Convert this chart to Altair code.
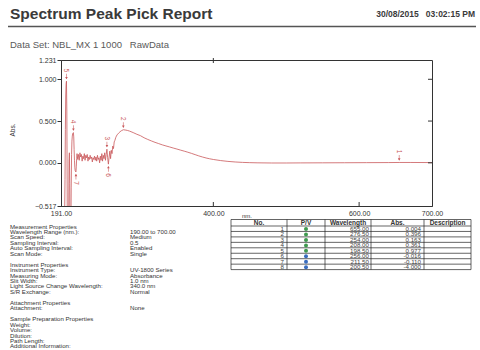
import altair as alt
import pandas as pd

# ---------------- spectrum (wavelength nm, absorbance) ----------------
wavelength = [
    190.0, 190.5, 191.0, 191.5, 192.0, 192.5, 193.0, 193.5, 194.0, 194.5,
    195.0, 195.5, 196.0, 196.5, 197.0, 197.5, 198.0, 198.5, 199.0, 199.5,
    200.0, 200.5, 201.0, 201.5, 202.0, 202.5, 203.0, 203.5, 204.0, 204.5,
    205.0, 205.5, 206.0, 206.5, 207.0, 207.5, 208.0, 208.5, 209.0, 209.5,
    210.0, 210.5, 211.0, 211.5, 212.0, 212.5, 213.0,
    214, 215, 216, 217, 218, 219, 220, 221, 222, 223, 224, 225, 226, 227,
    228, 229, 230, 231, 232, 233, 234, 235, 236, 237, 238, 239, 240, 241,
    242, 243, 244, 245, 246, 247, 248, 249, 250, 251, 252, 253, 254, 255,
    256, 257, 258, 259, 260, 261, 262, 263, 264, 265, 266, 267, 268, 270,
    272, 274, 276.5, 279, 282, 285, 290, 295, 300, 305, 310, 315, 320, 325,
    330, 335, 340, 345, 350, 355, 360, 365, 370, 375, 380, 385, 390, 395,
    400, 410, 420, 430, 440, 450, 460, 480, 500, 520, 550, 580, 610, 640,
    655, 670, 700,
]
absorbance = [
    -1.30, -1.10, -0.95, -1.40, -1.05, -0.90, -1.60, -1.20, -0.85, -1.10,
    -0.75, -0.95, -0.60, -0.20, 0.40, 0.80, 0.94, 0.977, 0.62, -0.35,
    -2.20, -4.000, -2.40, -0.70, 0.02, 0.12, -0.25, -1.10, -1.60, -0.90,
    -0.30, 0.10, 0.26, 0.32, 0.35, 0.358, 0.361, 0.31, 0.16, 0.03,
    -0.06, -0.095, -0.105, -0.110, -0.04, 0.05, 0.11,
    0.04, 0.10, 0.03, 0.12, 0.07, 0.10, 0.02, 0.08, 0.05, 0.11, 0.03, 0.09, 0.06, 0.10,
    0.02, 0.07, 0.04, 0.09, 0.05, 0.07, 0.01, 0.06, 0.04, 0.08, 0.03, 0.07, 0.02, 0.09,
    0.04, 0.06, 0.00, 0.08, 0.03, 0.11, 0.02, 0.09, 0.05, 0.12, 0.03, 0.10, 0.163, 0.06,
    -0.016, 0.07, 0.14, 0.05, 0.15, 0.11, 0.20, 0.17, 0.25, 0.27, 0.30, 0.32, 0.335, 0.355,
    0.372, 0.385, 0.396, 0.393, 0.388, 0.38, 0.362, 0.342, 0.325, 0.30, 0.28, 0.262, 0.245, 0.23,
    0.215, 0.202, 0.19, 0.177, 0.165, 0.152, 0.14, 0.127, 0.113, 0.098, 0.083, 0.07, 0.058, 0.048,
    0.04, 0.027, 0.017, 0.01, 0.005, 0.002, 0.0, -0.002, -0.002, -0.001, 0.0, 0.001, 0.002, 0.003,
    0.004, 0.004, 0.003,
]

# ---------------- picked peaks / valleys ----------------
pick_no = [1, 2, 3, 4, 5, 6, 7, 8]
pick_type = ["P", "P", "P", "P", "P", "V", "V", "V"]
pick_wl = [655.00, 276.50, 254.00, 208.00, 198.50, 256.00, 211.50, 200.50]
pick_abs = [0.004, 0.396, 0.163, 0.361, 0.977, -0.016, -0.110, -4.000]

# ---------------- axes ----------------
x_domain = [191.0, 700.0]
y_domain = [-0.517, 1.231]
x_labels = [191.0, 400.0, 600.0, 700.0]
x_inner_ticks = [400.0, 600.0]
y_labels = [-0.517, 0.0, 0.5, 1.0, 1.231]
y_inner_ticks = [0.0, 0.5, 1.0]

# ---------------- report text ----------------
NBSP3 = "\u00a0\u00a0\u00a0"
report_title = "Spectrum Peak Pick Report"
report_stamp = "30/08/2015" + NBSP3 + "03:02:15 PM"
data_set_line = "Data Set: NBL_MX 1 1000" + NBSP3 + "RawData"
table_headers = ["No.", "P/V", "Wavelength", "Abs.", "Description"]
prop_labels = [
    "Measurement Properties", "Wavelength Range (nm.):", "Scan Speed:",
    "Sampling Interval:", "Auto Sampling Interval:", "Scan Mode:", "",
    "Instrument Properties", "Instrument Type:", "Measuring Mode:",
    "Slit Width:", "Light Source Change Wavelength:", "S/R Exchange:", "",
    "Attachment Properties", "Attachment:", "",
    "Sample Preparation Properties", "Weight:", "Volume:", "Dilution:",
    "Path Length:", "Additional Information:",
]
prop_values = [
    "", "190.00 to 700.00", "Medium", "0.5", "Enabled", "Single", "",
    "", "UV-1800 Series", "Absorbance", "1.0 nm", "340.0 nm", "Normal", "",
    "", "None", "",
    "", "", "", "", "", "",
]

# ---------------- page geometry (px) ----------------
OX, OY = 61, 60          # plot origin on the page
W, H = 371, 146          # plot area
RED = "#c9585a"
INK = "#333333"
FONT = "Liberation Sans"


def px(v):
    return v - OX


def py(v):
    return v - OY


spec = pd.DataFrame({"wl": wavelength, "abs": absorbance})
picks = pd.DataFrame({"no": pick_no, "type": pick_type, "wl": pick_wl, "abs": pick_abs})

xs = alt.Scale(domain=x_domain, nice=False, zero=False)
ys = alt.Scale(domain=y_domain, nice=False, zero=False)
xa = alt.Axis(
    values=x_labels, format=".2f", title=None, ticks=False, grid=False,
    labelFontSize=7, labelFont=FONT, labelColor=INK, labelPadding=3,
    labelFlush=False, labelOverlap=False, domainColor=INK)
ya = alt.Axis(
    values=y_labels, format=".3f", title=None, tickSize=4, grid=False,
    labelFontSize=7, labelFont=FONT, labelColor=INK, labelPadding=1,
    labelFlush=False, labelOverlap=False, domainColor=INK, tickColor=INK)

line = alt.Chart(spec).mark_line(color=RED, strokeWidth=0.8, clip=True).encode(
    x=alt.X("wl:Q", scale=xs, axis=xa),
    y=alt.Y("abs:Q", scale=ys, axis=ya),
)

# inward ticks on bottom, top and right frame edges
bottom_ticks = alt.Chart(pd.DataFrame({"t": x_inner_ticks})).mark_rule(color=INK).encode(
    x=alt.X("t:Q", scale=xs, axis=xa), y=alt.value(H - 4), y2=alt.value(H))
top_ticks = alt.Chart(pd.DataFrame({"t": x_inner_ticks[:1]})).mark_rule(color=INK).encode(
    x=alt.X("t:Q", scale=xs, axis=xa), y=alt.value(-2), y2=alt.value(3))
right_ticks = alt.Chart(pd.DataFrame({"t": y_inner_ticks})).mark_rule(color=INK).encode(
    y=alt.Y("t:Q", scale=ys, axis=ya), x=alt.value(W - 4), x2=alt.value(W))

# peak / valley markers
visible = picks[picks["abs"] > y_domain[0]]
pk = visible[visible["type"] == "P"]
vl = visible[visible["type"] == "V"]


def markers(df, sign, shape):
    base = alt.Chart(df).encode(x=alt.X("wl:Q", scale=xs, axis=xa), y=alt.Y("abs:Q", scale=ys, axis=ya))
    stem = base.mark_tick(orient="vertical", size=5, thickness=0.8, color=RED, yOffset=sign * 5)
    head = base.mark_point(shape=shape, filled=True, size=7, color=RED, opacity=1, yOffset=sign * 3)
    label = base.mark_text(angle=90, fontSize=6.5, font=FONT, color=RED, yOffset=sign * 11).encode(
        text="no:N")
    return stem + head + label


pk_layer = markers(pk, -1, "triangle-down")
vl_layer = markers(vl, 1, "triangle-up")


def pix_text(df, font=FONT, **kw):
    return alt.Chart(df).mark_text(font=font, **kw).encode(
        x=alt.X("x:Q", scale=None, axis=None),
        y=alt.Y("y:Q", scale=None, axis=None),
        text="t:N",
    )


# header
title = pix_text(pd.DataFrame({"t": [report_title], "x": [px(10)], "y": [py(19)]}),
                 fontSize=15.5, fontWeight="bold", color="#3a3a3a", align="left", baseline="alphabetic")
stamp = pix_text(pd.DataFrame({"t": [report_stamp], "x": [px(475)], "y": [py(17)]}),
                 fontSize=8.5, fontWeight="bold", color="#3a3a3a", align="right", baseline="alphabetic")
header_rule = alt.Chart(pd.DataFrame({"k": [0]})).mark_rule(color="#555", strokeWidth=1.3).encode(
    x=alt.value(px(8)), x2=alt.value(px(476)), y=alt.value(py(26.5)))
dataset = pix_text(pd.DataFrame({"t": [data_set_line], "x": [px(10)], "y": [py(48)]}),
                   fontSize=9.5, color="#5a5a5a", align="left", baseline="alphabetic")

# axis titles
nm_title = pix_text(pd.DataFrame({"t": ["nm."], "x": [px(247)], "y": [py(216)]}),
                    fontSize=6, color=INK, align="center", baseline="middle")
abs_title = pix_text(pd.DataFrame({"t": ["Abs."], "x": [px(13)], "y": [py(130)]}),
                     fontSize=6.5, color=INK, angle=270, align="center", baseline="middle")

# measurement property block
line_h = 5.45
props = pd.DataFrame({
    "t": prop_labels,
    "v": prop_values,
    "y": [py(226.5 + i * line_h) for i in range(len(prop_labels))],
})
props["x"] = px(10)
block_kw = dict(fontSize=6.1, color="#333", align="left", baseline="middle")
prop_text = pix_text(props, **block_kw)
vals = props.assign(t=props["v"], x=px(130))
prop_vals = pix_text(vals, **block_kw)

# peak table
col_edges = [231, 287, 325, 371, 424, 471]
t_top, t_head, row_h = 219.5, 226, 5.45
t_bottom = t_head + row_h * len(pick_no)
h_lines = pd.DataFrame({"y": [py(t_top), py(t_head)] + [py(t_head + row_h * (i + 1)) for i in range(len(pick_no))]})
v_lines = pd.DataFrame({"x": [px(c) for c in col_edges]})
grid_h = alt.Chart(h_lines).mark_rule(color="#222", strokeWidth=0.7).encode(
    y=alt.Y("y:Q", scale=None, axis=None), x=alt.value(px(col_edges[0])), x2=alt.value(px(col_edges[-1])))
grid_v = alt.Chart(v_lines).mark_rule(color="#222", strokeWidth=0.7).encode(
    x=alt.X("x:Q", scale=None, axis=None), y=alt.value(py(t_top)), y2=alt.value(py(t_bottom)))

heads = pd.DataFrame({
    "t": table_headers,
    "x": [px((col_edges[i] + col_edges[i + 1]) / 2) for i in range(len(table_headers))],
    "y": [py((t_top + t_head) / 2 + 0.3)] * len(table_headers),
})
head_text = pix_text(heads, fontSize=6.5, fontWeight="bold", color="#333",
                     align="center", baseline="middle")

row_y = [py(t_head + row_h * (i + 0.5) + 0.3) for i in range(len(pick_no))]
cell_kw = dict(fontSize=6.2, color="#444", align="right", baseline="middle")
no_col = pix_text(pd.DataFrame({"t": [str(n) for n in pick_no], "x": px(col_edges[1] - 3), "y": row_y}), **cell_kw)
wl_col = pix_text(pd.DataFrame({"t": ["%.2f" % w for w in pick_wl], "x": px(col_edges[3] - 2), "y": row_y}), **cell_kw)
abs_col = pix_text(pd.DataFrame({"t": ["%.3f" % a for a in pick_abs], "x": px(col_edges[4] - 3), "y": row_y}), **cell_kw)
dots = alt.Chart(pd.DataFrame({"type": pick_type, "x": px((col_edges[1] + col_edges[2]) / 2), "y": row_y})).mark_point(
    filled=True, size=16, opacity=1).encode(
    x=alt.X("x:Q", scale=None, axis=None),
    y=alt.Y("y:Q", scale=None, axis=None),
    color=alt.Color("type:N", scale=alt.Scale(domain=["P", "V"], range=["#3f9a4f", "#3a6dbf"]), legend=None),
)

chart = alt.layer(
    line, bottom_ticks, top_ticks, right_ticks, pk_layer, vl_layer,
    title, stamp, header_rule, dataset, nm_title, abs_title,
    prop_text, prop_vals, grid_h, grid_v, head_text, no_col, wl_col, abs_col, dots,
).properties(
    width=W, height=H,
    autosize=alt.AutoSizeParams(type="none"),
    padding={"left": OX, "top": OY, "right": 480 - OX - W, "bottom": 350 - OY - H},
    background="white",
).configure_view(
    stroke=INK, strokeWidth=1
).configure_axis(labelOverlap=False)

chart.save("out.html", embed_options={"renderer": "svg", "actions": False})
